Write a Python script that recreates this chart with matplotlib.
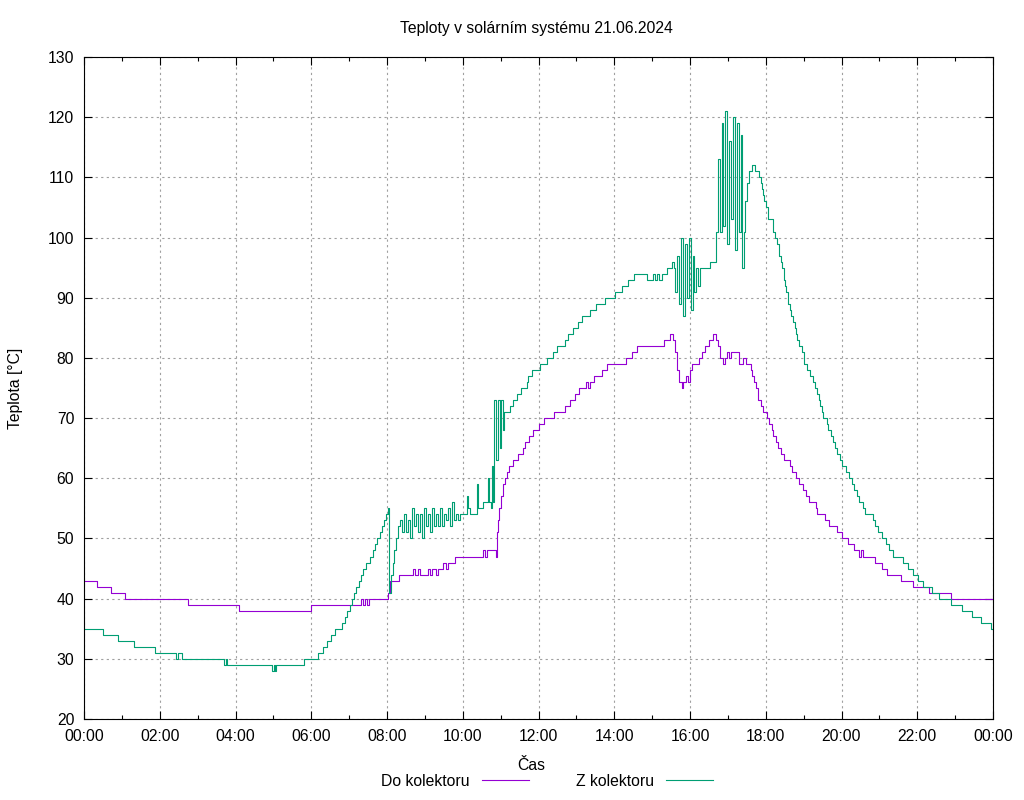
import matplotlib
matplotlib.use("Agg")
import matplotlib.pyplot as plt
import numpy as np

# -----------------------------
# DATA
# -----------------------------
do_time = ["00:00", "00:21", "00:43", "01:05", "02:45", "04:06", "06:00", "07:19", "07:22", "07:25",
           "07:28", "07:31", "08:02", "08:05", "08:19", "08:41", "08:44", "08:49", "08:52", "09:05",
           "09:08", "09:11", "09:18", "09:21", "09:29", "09:33", "09:37", "09:48", "10:32", "10:35",
           "10:38", "10:53", "10:54", "10:56", "10:57", "11:01", "11:04", "11:07", "11:10", "11:13",
           "11:20", "11:28", "11:35", "11:39", "11:45", "11:51", "12:01", "12:09", "12:25", "12:42",
           "12:50", "12:58", "13:04", "13:15", "13:18", "13:22", "13:28", "13:41", "13:48", "14:19",
           "14:28", "14:36", "15:19", "15:28", "15:33", "15:36", "15:39", "15:43", "15:47", "15:49",
           "15:54", "15:57", "16:00", "16:03", "16:14", "16:19", "16:24", "16:30", "16:36", "16:41",
           "16:44", "16:48", "16:52", "16:55", "16:59", "17:02", "17:05", "17:18", "17:24", "17:29",
           "17:37", "17:38", "17:41", "17:45", "17:48", "17:52", "17:56", "18:02", "18:05", "18:10",
           "18:11", "18:16", "18:19", "18:24", "18:29", "18:38", "18:42", "18:48", "18:53", "18:59",
           "19:04", "19:08", "19:20", "19:21", "19:34", "19:40", "19:53", "20:01", "20:10", "20:20",
           "20:28", "20:31", "20:34", "20:53", "21:04", "21:12", "21:34", "21:53", "22:19", "22:53",
           "24:00"]
do_temp = [43, 42, 41, 40, 39, 38, 39, 40, 39, 40,
           39, 40, 41, 43, 44, 45, 44, 45, 44, 45,
           44, 45, 44, 45, 46, 45, 46, 47, 48, 47,
           48, 47, 51, 53, 55, 57, 59, 60, 61, 62,
           63, 64, 65, 66, 67, 68, 69, 70, 71, 72,
           73, 74, 75, 76, 75, 76, 77, 78, 79, 80,
           81, 82, 83, 84, 83, 81, 78, 76, 75, 76,
           77, 76, 78, 79, 80, 81, 82, 83, 84, 83,
           82, 80, 79, 80, 81, 80, 81, 79, 80, 79,
           78, 77, 76, 75, 73, 72, 71, 70, 69, 68,
           67, 66, 65, 64, 63, 62, 61, 60, 59, 58,
           57, 56, 55, 54, 53, 52, 51, 50, 49, 48,
           47, 48, 47, 46, 45, 44, 43, 42, 41, 40,
           40]

z_time = ["00:00", "00:30", "00:54", "01:19", "01:52", "02:26", "02:29", "02:35", "03:42", "03:45",
          "03:47", "04:58", "05:01", "05:03", "05:04", "05:49", "06:11", "06:19", "06:25", "06:31",
          "06:38", "06:49", "06:53", "06:57", "07:01", "07:05", "07:08", "07:11", "07:16", "07:19",
          "07:22", "07:27", "07:33", "07:38", "07:41", "07:44", "07:49", "07:52", "07:55", "07:58",
          "08:02", "08:03", "08:06", "08:10", "08:11", "08:14", "08:17", "08:20", "08:24", "08:27",
          "08:30", "08:33", "08:36", "08:40", "08:43", "08:46", "08:49", "08:52", "08:55", "08:59",
          "09:02", "09:05", "09:08", "09:11", "09:14", "09:18", "09:21", "09:24", "09:27", "09:30",
          "09:33", "09:37", "09:40", "09:43", "09:46", "09:49", "09:52", "09:56", "10:07", "10:08",
          "10:11", "10:22", "10:24", "10:32", "10:40", "10:41", "10:44", "10:46", "10:48", "10:50",
          "10:53", "10:56", "10:59", "11:01", "11:03", "11:05", "11:15",
          "11:20", "11:26", "11:32", "11:42", "11:43", "11:50", "12:02", "12:13", "12:23", "12:29",
          "12:42", "12:47", "12:55", "13:03", "13:09", "13:22", "13:31", "13:45", "14:01", "14:12",
          "14:22", "14:31", "14:52", "15:01", "15:04", "15:08", "15:11", "15:16", "15:24", "15:31",
          "15:34", "15:37", "15:40", "15:43", "15:46", "15:49", "15:52", "15:55", "15:58", "16:01",
          "16:04", "16:07", "16:10", "16:13", "16:16", "16:32", "16:41", "16:44", "16:47", "16:50",
          "16:53", "16:56", "16:59", "17:02", "17:05", "17:08", "17:11", "17:14", "17:17", "17:20",
          "17:22", "17:25", "17:27", "17:30", "17:33", "17:38", "17:43", "17:49",
          "17:52", "17:54", "17:56", "17:57", "18:00", "18:04", "18:11", "18:15", "18:18", "18:21",
          "18:24", "18:26", "18:29", "18:30", "18:32", "18:35", "18:38", "18:40", "18:43", "18:46",
          "18:48", "18:49", "18:53", "18:57", "19:00", "19:01", "19:05", "19:10", "19:15", "19:18",
          "19:21", "19:24", "19:26", "19:29", "19:31", "19:37", "19:39", "19:43", "19:46", "19:49",
          "19:53", "19:58", "20:01", "20:07", "20:12", "20:17", "20:20", "20:25", "20:28", "20:34",
          "20:37", "20:50", "20:53", "20:58", "21:04", "21:10", "21:15", "21:22", "21:37", "21:45",
          "21:53", "22:01", "22:09", "22:23", "22:34", "22:53", "23:11", "23:27", "23:41", "23:57",
          "24:00"]
z_temp = [35, 34, 33, 32, 31, 30, 31, 30, 29, 30,
          29, 28, 29, 28, 29, 30, 31, 32, 33, 34,
          35, 36, 37, 38, 39, 40, 41, 42, 43, 44,
          45, 46, 47, 48, 49, 50, 51, 52, 53, 54,
          55, 41, 44, 46, 48, 50, 52, 53, 51, 54,
          51, 53, 50, 55, 52, 54, 51, 54, 50, 55,
          52, 54, 51, 55, 52, 54, 52, 55, 52, 54,
          53, 55, 52, 56, 53, 54, 53, 54, 57, 55,
          54, 59, 55, 56, 60, 56, 55, 62, 56, 73,
          63, 73, 65, 73, 68, 71, 72,
          73, 74, 75, 76, 77, 78, 79, 80, 81, 82,
          83, 84, 85, 86, 87, 88, 89, 90, 91, 92,
          93, 94, 93, 94, 93, 94, 93, 94, 95, 96,
          95, 91, 97, 89, 100, 87, 99, 90, 100, 88,
          97, 91, 95, 92, 95, 96, 101, 113, 101, 119,
          102, 121, 99, 116, 103, 120, 98, 119, 101, 117,
          95, 101, 106, 109, 111, 112, 111, 110,
          109, 108, 107, 106, 105, 103, 101, 100, 99, 97,
          96, 95, 93, 92, 91, 89, 88, 87, 86, 85,
          84, 83, 82, 81, 80, 79, 78, 77, 76, 75,
          74, 73, 72, 71, 70, 69, 68, 67, 66, 65,
          64, 63, 62, 61, 60, 59, 58, 57, 56, 55,
          54, 53, 52, 51, 50, 49, 48, 47, 46, 45,
          44, 43, 42, 41, 40, 39, 38, 37, 36, 35,
          35]

x_ticks = list(range(0, 25, 2))
x_labels = [f"{h % 24:02d}:00" for h in x_ticks]
y_ticks = list(range(20, 131, 10))


def to_hours(times):
    return np.array([int(t[:2]) + int(t[3:]) / 60 for t in times])


# -----------------------------
# FIGURE
# -----------------------------
plt.rcParams['font.family'] = ['Liberation Sans', 'DejaVu Sans']
fs = 11.3

fig = plt.figure(figsize=(10.24, 8), dpi=100)
ax = fig.add_axes([84 / 1024, 81 / 800, 909 / 1024, 662 / 800])

ax.plot(to_hours(do_time), do_temp, drawstyle='steps-post', color='#9400d3', lw=0.8, label='Do kolektoru')
ax.plot(to_hours(z_time), z_temp, drawstyle='steps-post', color='#009e73', lw=0.8, label='Z kolektoru')

ax.set_xlim(0, 24)
ax.set_ylim(20, 130)
ax.set_xticks(x_ticks)
ax.set_xticklabels(x_labels)
ax.set_xticks(range(0, 25), minor=True)
ax.set_yticks(y_ticks)

ax.grid(True, which='major', color='#a0a0a0', ls=(0, (2, 3)), lw=0.8)
ax.tick_params(which='both', direction='in', top=True, right=True, labelsize=fs, pad=7, width=0.8)
ax.tick_params(which='major', length=6)
ax.tick_params(which='minor', length=3)
for sp in ax.spines.values():
    sp.set_linewidth(0.8)
    sp.set_color('black')

fig.text(536 / 1024, 1 - 28 / 800, 'Teploty v solárním systému 21.06.2024', ha='center', va='center', fontsize=fs)
fig.text(16 / 1024, 1 - 388 / 800, 'Teplota [°C]', rotation=90, ha='center', va='center', fontsize=fs)
fig.text(531 / 1024, 1 - 765 / 800, 'Čas', ha='center', va='center', fontsize=fs)

ax.legend(loc='center', bbox_to_anchor=(547 / 1024, 1 - 781 / 800), bbox_transform=fig.transFigure,
          ncol=2, frameon=False, markerfirst=False, handlelength=3.0, handletextpad=0.8,
          columnspacing=3.0, fontsize=fs, borderpad=0)

fig.savefig('out.png', dpi=100)
